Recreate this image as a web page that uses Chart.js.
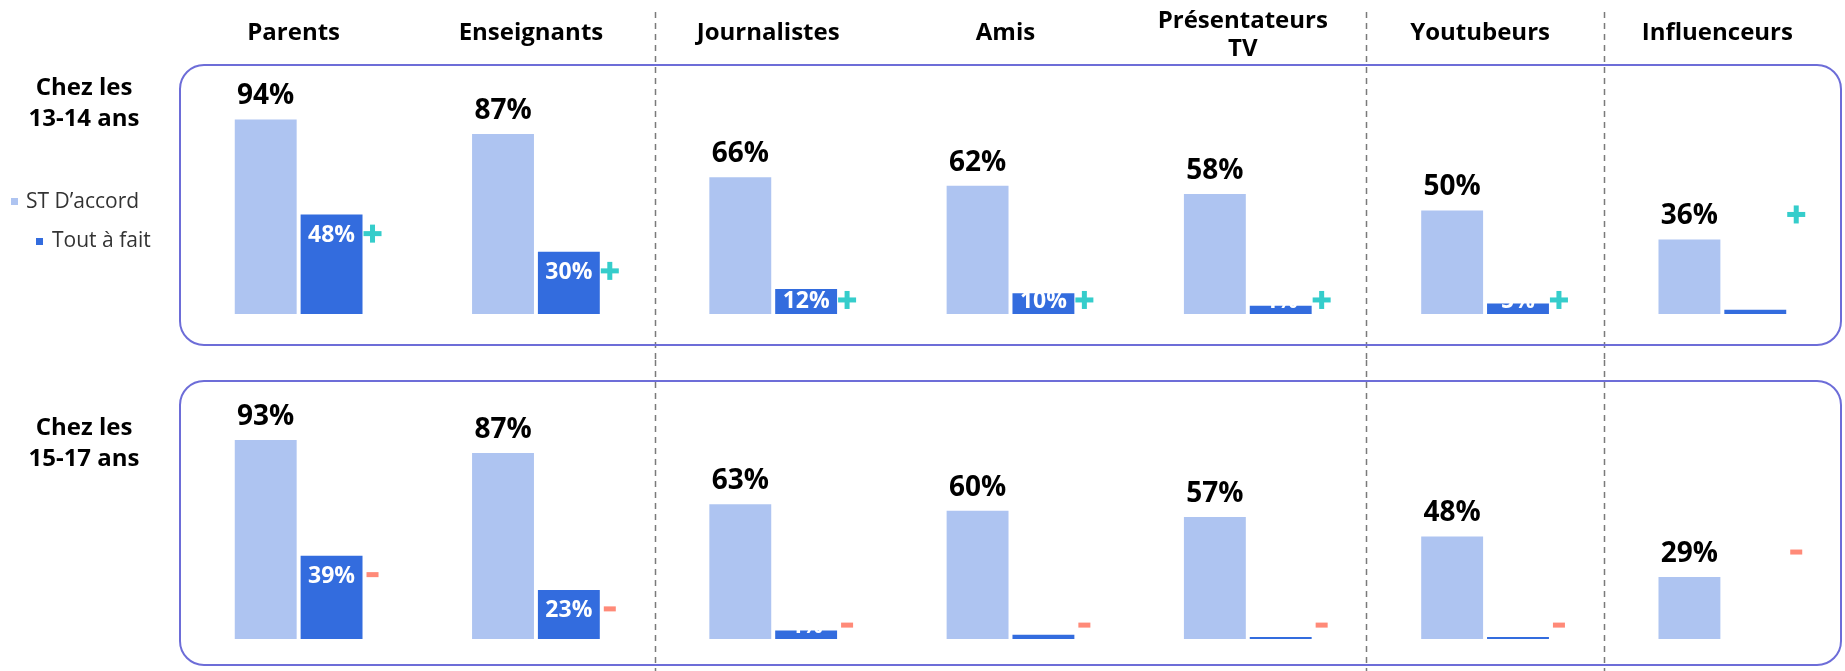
<!DOCTYPE html>
<html>
<head>
<meta charset="utf-8">
<script src="https://cdn.jsdelivr.net/npm/chart.js@4.4.1/dist/chart.umd.min.js"></script>
<style>
    html, body { margin: 0; padding: 0; background: #fff; }
    #page { position: relative; width: 1845px; height: 671px; }
    .row { position: absolute; left: 0; width: 1845px; }
</style>
</head>
<body>
<div id="page">
    <div class="row" style="top:0;height:360px"><canvas id="chart1314" width="1845" height="360"></canvas></div>
    <div class="row" style="top:360px;height:311px"><canvas id="chart1517" width="1845" height="311"></canvas></div>
</div>
<script>
// Data
const categories = [['Parents'], ['Enseignants'], ['Journalistes'], ['Amis'], ['Présentateurs', 'TV'], ['Youtubeurs'], ['Influenceurs']];
const seriesNames = ['ST D’accord', 'Tout à fait'];

const ageGroup1314 = ['Chez les', '13-14 ans'];
const stAccord1314 = [94, 87, 66, 62, 58, 50, 36];
const toutAFait1314 = [48, 30, 12, 10, 4, 5, 2];
const trend1314 = ['+', '+', '+', '+', '+', '+', '+'];

const ageGroup1517 = ['Chez les', '15-17 ans'];
const stAccord1517 = [93, 87, 63, 60, 57, 48, 29];
const toutAFait1517 = [39, 23, 4, 2, 1, 1, 0];
const trend1517 = ['-', '-', '-', '-', '-', '-', '-'];

// dashed separators come after these category indexes
const groupBreaks = [1, 4, 5];

const LIGHT = '#AEC4F1';
const DARK = '#336CDE';
const FONT = "'Open Sans', sans-serif";

function decorPlugin(cfg) {
    return {
        id: 'decor',
        beforeDatasetsDraw(chart) {
            const ctx = chart.ctx;
            const area = chart.chartArea;
            const x = chart.scales.x;
            ctx.save();
            // dashed separators between groups
            ctx.strokeStyle = '#7a7a7a';
            ctx.lineWidth = 1.5;
            ctx.setLineDash([6, 5]);
            groupBreaks.forEach(i => {
                const px = Math.round((x.getPixelForValue(i) + x.getPixelForValue(i + 1)) / 2) + 0.5;
                ctx.beginPath();
                ctx.moveTo(px, cfg.dashTop);
                ctx.lineTo(px, chart.height);
                ctx.stroke();
            });
            ctx.setLineDash([]);
            // rounded panel
            ctx.strokeStyle = '#6D6DD8';
            ctx.lineWidth = 2;
            ctx.beginPath();
            ctx.roundRect(area.left, area.top, area.right - area.left, area.bottom - area.top, 24);
            ctx.stroke();
            ctx.restore();
        },
        afterDatasetsDraw(chart) {
            const ctx = chart.ctx;
            const x = chart.scales.x;
            const light = chart.getDatasetMeta(0).data;
            const dark = chart.getDatasetMeta(1).data;
            const lightVals = chart.data.datasets[0].data;
            const darkVals = chart.data.datasets[1].data;
            const last = categories.length - 1;
            ctx.save();
            ctx.textAlign = 'center';
            ctx.textBaseline = 'alphabetic';

            lightVals.forEach((v, i) => {
                const bar = light[i];
                ctx.fillStyle = '#000';
                ctx.font = 'bold 28px ' + FONT;
                ctx.fillText(v + '%', bar.x, bar.y - 15);

                const d = dark[i];
                const right = d.x + d.width / 2;
                const baseY = Math.min(d.y + 27, d.base - 6);
                if (darkVals[i] > 0) {
                    // white label, partly hidden when the bar is short
                    ctx.fillStyle = '#fff';
                    ctx.font = 'bold 23px ' + FONT;
                    ctx.fillText(darkVals[i] + '%', d.x, baseY);
                }
                // the last group's marker sits beside its light label
                const markY = i === last ? bar.y - 25 : baseY - 8;
                const mx = right + 10;
                if (cfg.trend[i] === '+') {
                    ctx.fillStyle = '#35CDCB';
                    ctx.fillRect(mx - 9, markY - 2.5, 18, 5);
                    ctx.fillRect(mx - 2.5, markY - 9, 5, 18);
                } else {
                    ctx.fillStyle = '#FF8A78';
                    ctx.fillRect(mx - 6, markY - 2.5, 12, 5);
                }
            });

            // column headers
            if (cfg.headers) {
                ctx.fillStyle = '#000';
                ctx.font = 'bold 24px ' + FONT;
                categories.forEach((lines, i) => {
                    const cx = x.getPixelForValue(i) - 5;
                    if (lines.length === 1) {
                        ctx.fillText(lines[0], cx, 40);
                    } else {
                        lines.forEach((t, k) => ctx.fillText(t, cx, 28 + k * 28));
                    }
                });
            }

            // row label
            ctx.fillStyle = '#000';
            ctx.font = 'bold 24px ' + FONT;
            cfg.ageGroup.forEach((t, k) => ctx.fillText(t, 84, cfg.labelY + k * 31));

            // legend
            if (cfg.legend) {
                ctx.textAlign = 'left';
                ctx.font = '21px ' + FONT;
                ctx.fillStyle = LIGHT;
                ctx.fillRect(11, 198, 7, 7);
                ctx.fillStyle = '#333';
                ctx.fillText(seriesNames[0], 26, 208);
                ctx.fillStyle = DARK;
                ctx.fillRect(36, 238, 7, 7);
                ctx.fillStyle = '#333';
                ctx.fillText(seriesNames[1], 52, 247);
            }
            ctx.restore();
        }
    };
}

function makeChart(id, light, dark, cfg) {
    return new Chart(document.getElementById(id), {
        type: 'bar',
        data: {
            labels: categories,
            datasets: [
                { label: seriesNames[0], data: light, backgroundColor: LIGHT, barPercentage: 0.94, categoryPercentage: 0.555 },
                { label: seriesNames[1], data: dark, backgroundColor: DARK, barPercentage: 0.94, categoryPercentage: 0.555 }
            ]
        },
        options: {
            responsive: false,
            animation: false,
            layout: { padding: cfg.padding },
            plugins: { legend: { display: false }, tooltip: { enabled: false } },
            scales: {
                x: { display: false },
                y: { display: false, min: cfg.min, max: cfg.max }
            }
        },
        plugins: [decorPlugin(cfg)]
    });
}

makeChart('chart1314', stAccord1314, toutAFait1314, {
    padding: { left: 180, right: 4, top: 65, bottom: 15 },
    min: -15, max: 120.3,
    trend: trend1314, ageGroup: ageGroup1314, labelY: 95,
    headers: true, legend: true, dashTop: 12
});

makeChart('chart1517', stAccord1517, toutAFait1517, {
    padding: { left: 180, right: 4, top: 21, bottom: 6 },
    min: -12.1, max: 120.6,
    trend: trend1517, ageGroup: ageGroup1517, labelY: 75,
    headers: false, legend: false, dashTop: 0
});
</script>
</body>
</html>
